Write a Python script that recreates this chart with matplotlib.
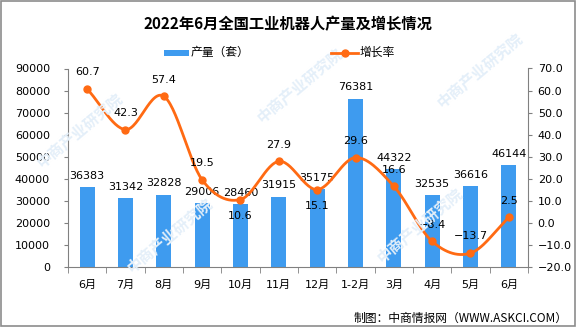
import numpy as np
import matplotlib
matplotlib.use("Agg")
import matplotlib.pyplot as plt
from matplotlib.lines import Line2D
from matplotlib.patches import Rectangle

plt.rcParams['font.family'] = ['DejaVu Sans', 'Noto Sans CJK SC']
plt.rcParams['axes.unicode_minus'] = True

categories = ["6月", "7月", "8月", "9月", "10月", "11月", "12月", "1-2月", "3月", "4月", "5月", "6月"]
production = [36383, 31342, 32828, 29006, 28460, 31915, 35175, 76381, 44322, 32535, 36616, 46144]
growth = [60.7, 42.3, 57.4, 19.5, 10.6, 27.9, 15.1, 29.6, 16.6, -8.4, -13.7, 2.5]
growth_label_below = [False, False, False, False, True, False, True, False, False, False, False, False]

bar_color = "#3E9BEF"
line_color = "#FF6A13"

W, H = 576, 327
fig = plt.figure(figsize=(W / 100, H / 100), dpi=100)

# figure border
fig.patches.append(Rectangle((0.001, 0.002), 0.997, 0.995, transform=fig.transFigure,
                             fill=False, edgecolor="#8c8c8c", linewidth=1.2))

# watermarks
wm_pos = [(80, 130), (300, 85), (480, 70), (170, 235), (420, 225)]
for (px, py) in wm_pos:
    fig.text(px / W, 1 - py / H, "中商产业研究院", fontsize=11, fontweight="bold",
             color="#e4eff9", rotation=40, ha="center", va="center",
             family=["Noto Sans CJK SC"], zorder=0)

ax = fig.add_axes([68 / W, 1 - 267 / H, (528 - 68) / W, (267 - 68.5) / H])
ax.set_facecolor("none")
ax2 = ax.twinx()

x = np.arange(len(categories))
ax.bar(x, production, width=0.39, color=bar_color, zorder=2)
ax.set_ylim(0, 90000)
ax.set_yticks(np.arange(0, 90001, 10000))
ax.set_xlim(-0.5, len(categories) - 0.5)

for xi, v in zip(x, production):
    ax.annotate(str(v), (xi, v), xytext=(0, 8), textcoords="offset points",
                ha="center", va="center", fontsize=8, color="black", zorder=5)

# smooth line (Catmull-Rom through the data points)
def catmull_rom(xs, ys, n=30):
    xs = np.asarray(xs, float)
    ys = np.asarray(ys, float)
    px = np.concatenate([[2 * xs[0] - xs[1]], xs, [2 * xs[-1] - xs[-2]]])
    py = np.concatenate([[2 * ys[0] - ys[1]], ys, [2 * ys[-1] - ys[-2]]])
    outx, outy = [], []
    for i in range(1, len(px) - 2):
        t = np.linspace(0, 1, n, endpoint=False)
        for arr, out in ((px, outx), (py, outy)):
            p0, p1, p2, p3 = arr[i - 1], arr[i], arr[i + 1], arr[i + 2]
            out.extend(0.5 * ((2 * p1) + (-p0 + p2) * t + (2 * p0 - 5 * p1 + 4 * p2 - p3) * t ** 2
                              + (-p0 + 3 * p1 - 3 * p2 + p3) * t ** 3))
    outx.append(xs[-1])
    outy.append(ys[-1])
    return np.array(outx), np.array(outy)

sx, sy = catmull_rom(x, growth)
ax2.plot(sx, sy, color=line_color, linewidth=2.0, zorder=3, solid_capstyle="round")
ax2.plot(x, growth, linestyle="none", marker="o", markersize=5, color=line_color, zorder=4)
ax2.set_ylim(-20, 70)
ax2.set_yticks(np.arange(-20, 71, 10))
ax2.set_yticklabels([f"{v:.1f}".replace("-", "\u2212") for v in np.arange(-20, 71, 10)])

for xi, v, below in zip(x, growth, growth_label_below):
    off = -12 if below else 12
    ax2.annotate(f"{v:.1f}".replace("-", "\u2212"), (xi, v), xytext=(0, off), textcoords="offset points",
                 ha="center", va="center", fontsize=8, color="black", zorder=5)

# axes styling
for a in (ax, ax2):
    a.spines["top"].set_visible(False)
ax.spines["right"].set_visible(False)
ax2.spines["left"].set_visible(False)
ax2.spines["bottom"].set_visible(False)
ax.spines["left"].set_color("#808080")
ax.spines["bottom"].set_color("#808080")
ax2.spines["right"].set_color("#808080")
ax.tick_params(axis="y", direction="out", length=3, color="#808080", labelsize=8, pad=10)
ax2.tick_params(axis="y", direction="out", length=3, color="#808080", labelsize=8, pad=4)
ax.set_xticks(x)
ax.set_xticklabels(categories, fontsize=8)
ax.tick_params(axis="x", length=0, pad=9)
ax.set_xticks(np.arange(-0.5, len(categories), 1), minor=True)
ax.tick_params(axis="x", which="minor", direction="out", length=4, color="#808080")

ax.set_zorder(ax2.get_zorder() - 1)
ax.patch.set_visible(False)

# title
fig.text(0.5, 1 - 24 / H, "2022年6月全国工业机器人产量及增长情况", ha="center", va="center",
         fontsize=11, fontweight="bold", family=["Noto Sans CJK SC"])

# legend
fig.patches.append(Rectangle((164 / W, 1 - 55.5 / H), 25 / W, 6 / H, transform=fig.transFigure,
                             facecolor=bar_color, edgecolor="none"))
fig.text(191 / W, 1 - 52.5 / H, "产量（套）", ha="left", va="center", fontsize=8.5,
         family=["Noto Sans CJK SC"])
fig.lines.append(Line2D([331 / W, 358 / W], [1 - 52.5 / H, 1 - 52.5 / H], transform=fig.transFigure,
                        color=line_color, linewidth=2.0))
fig.lines.append(Line2D([344.5 / W], [1 - 52.5 / H], transform=fig.transFigure,
                        color=line_color, marker="o", markersize=5))
fig.text(360 / W, 1 - 52.5 / H, "增长率", ha="left", va="center", fontsize=8.5,
         family=["Noto Sans CJK SC"])

# footer
fig.text(568 / W, 1 - 318 / H, "制图：中商情报网（WWW.ASKCI.COM）", ha="right", va="center",
         fontsize=8.5, family=["Noto Sans CJK SC"])

fig.savefig("out.png", dpi=100)
